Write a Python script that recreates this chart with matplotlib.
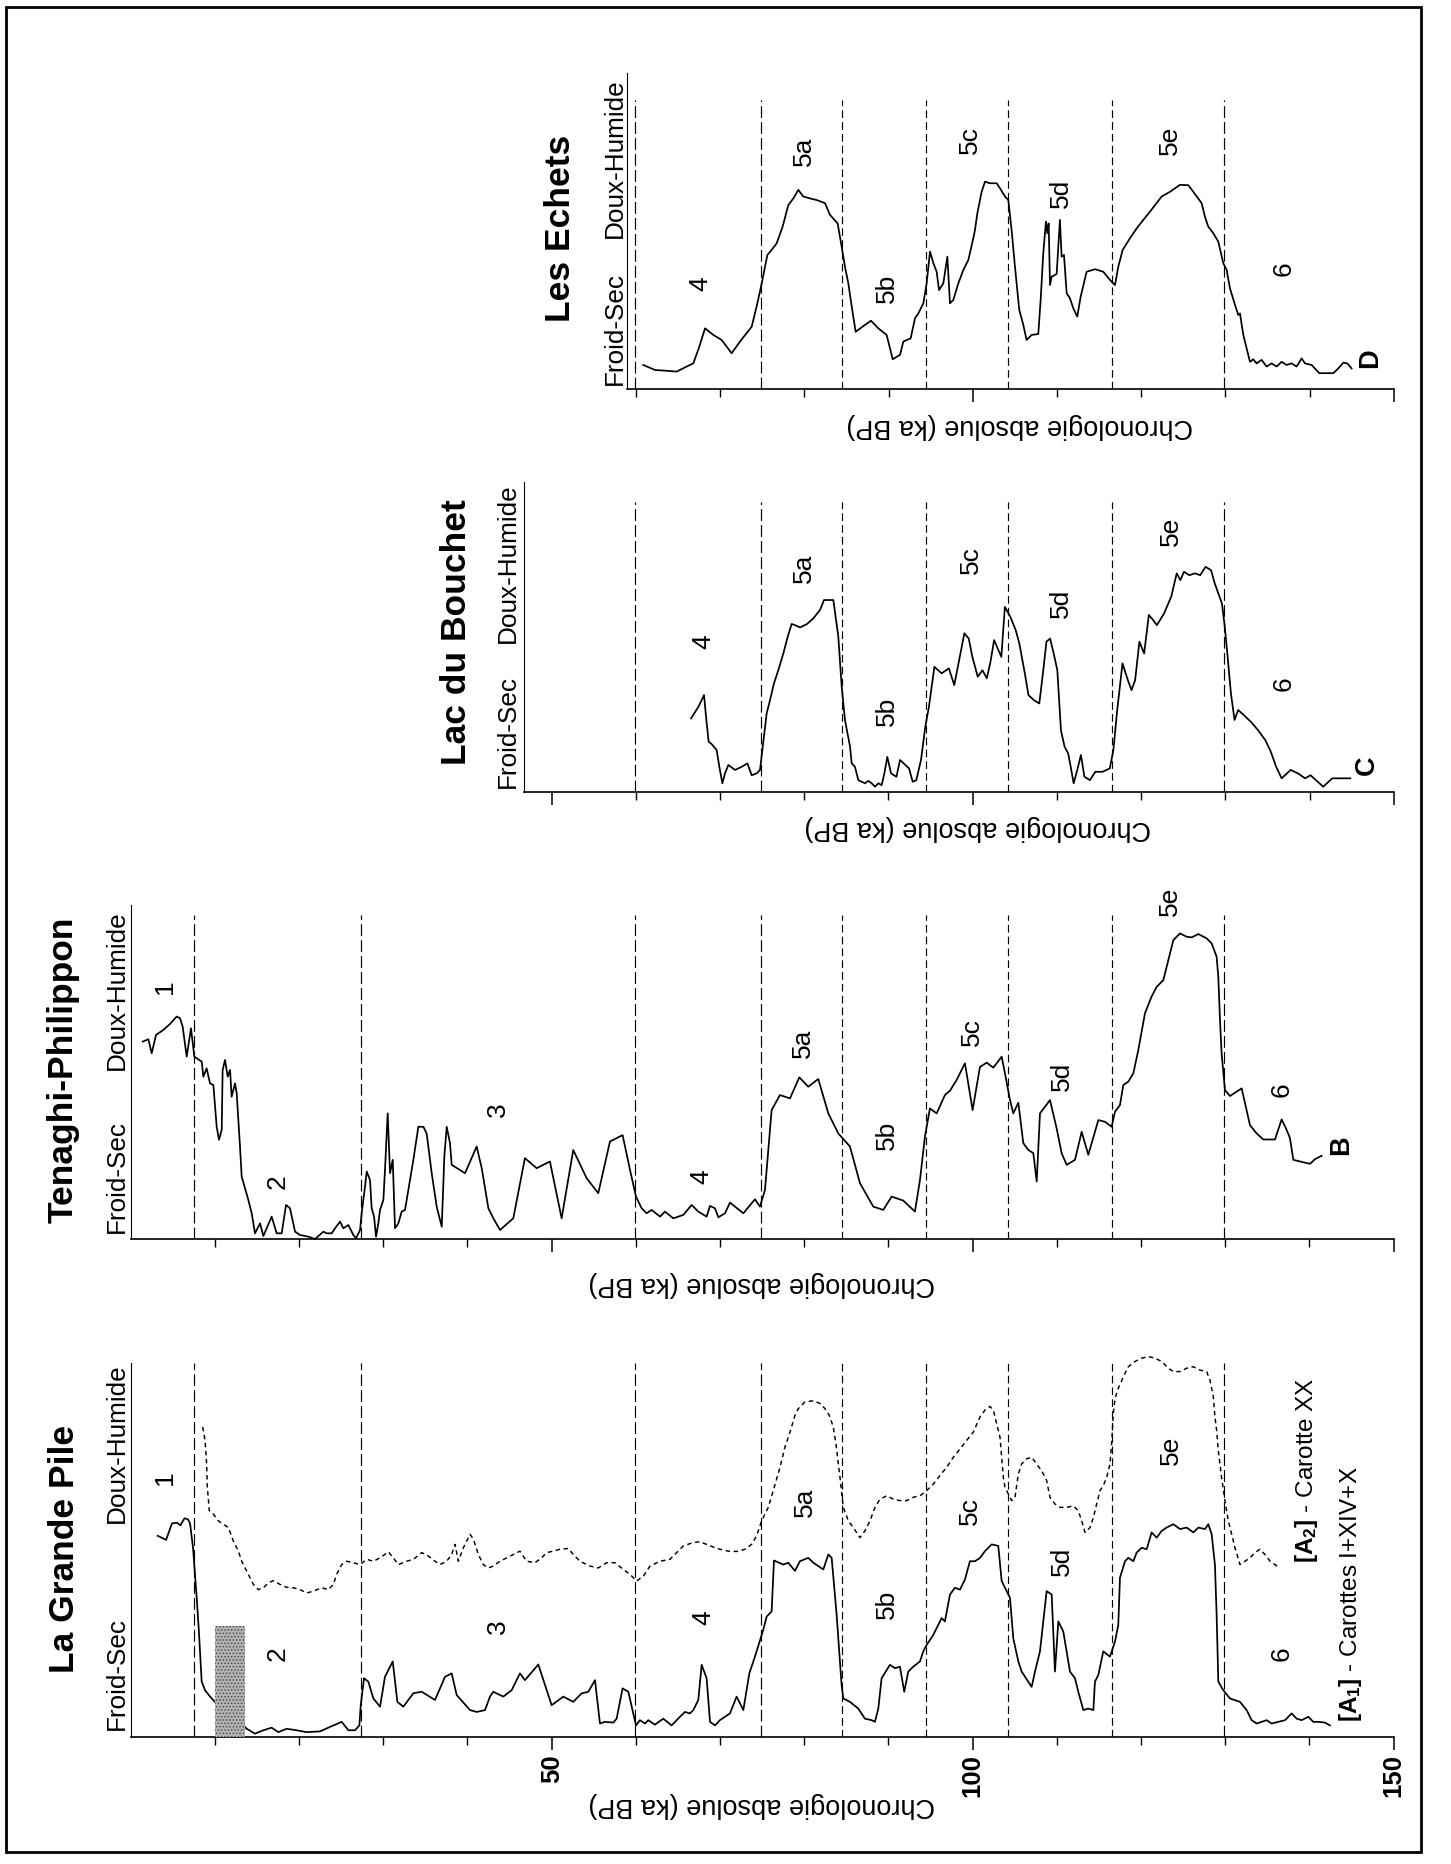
import matplotlib
matplotlib.use('Agg')
import matplotlib.pyplot as plt
from matplotlib.patches import Rectangle
import numpy as np

plt.rcParams['font.family'] = ['Liberation Sans', 'DejaVu Sans']
plt.rcParams['mathtext.fontset'] = 'custom'
plt.rcParams['mathtext.rm'] = 'Liberation Sans'
plt.rcParams['mathtext.bf'] = 'Liberation Sans:bold'
plt.rcParams['lines.scale_dashes'] = False
plt.rcParams['hatch.linewidth'] = 0.7

# ---------------- DATA ----------------
# isotope stage boundaries (ka BP)
stage_bounds = [7.5, 27.3, 59.9, 74.9, 84.5, 94.4, 104.2, 116.5, 129.8]
long_dash_bounds = [7.5, 27.3, 59.9, 74.9, 129.8]

# La Grande Pile A1 (Carottes I+XIV+X), solid
a1_age = [3.2, 4.2, 4.9, 5.5, 5.9, 6.4, 6.8, 7.05, 7.4, 7.84, 8.1, 8.43, 8.83, 9.42, 10.0, 12.2,
          13.78, 14.76, 15.76, 16.74, 17.54, 18.52, 19.71, 20.9, 22.48, 23.67, 25.06, 25.85, 26.64,
          27.16, 27.32, 27.71, 28.22, 28.82, 29.61, 30.2, 31.12, 31.67, 32.38, 33.57, 34.56, 36.14,
          37.33, 38.12, 38.72, 40.3, 41.09, 42.08, 42.67, 43.06, 44.25, 45.24, 46.23, 46.82, 48.41,
          49.99, 51.38, 52.56, 53.55, 54.35, 55.14, 55.73, 56.33, 57.32, 57.71, 58.42, 59.10, 60.01,
          60.48, 61.08, 61.47, 62.26, 63.25, 64.24, 65.23, 65.83, 66.42, 66.82, 67.41, 67.81, 68.40,
          68.80, 69.39, 69.98, 71.17, 71.96, 72.76, 73.47, 74.14, 75.13, 75.53, 76.12, 76.40, 77.50,
          78.10, 78.89, 79.48, 80.47, 81.07, 82.26, 82.85, 83.25, 83.84, 84.43, 84.63, 85.42, 86.41,
          87.20, 88.0, 88.39, 88.79, 89.18, 90.17, 90.77, 91.36, 91.87, 92.35, 92.94, 93.74, 94.13,
          94.53, 95.32, 96.31, 96.70, 97.30, 97.89, 98.49, 99.08, 99.67, 100.27, 100.87, 101.46,
          102.25, 103.04, 103.44, 104.03, 104.43, 104.82, 105.42, 105.81, 107.0, 107.4, 107.99,
          108.78, 109.38, 109.77, 110.17, 110.76, 111.55, 112.15, 112.54, 113.14, 113.73, 114.33,
          114.52, 114.92, 115.51, 116.30, 116.9, 117.29, 117.49, 118.09, 118.48, 119.08, 119.47,
          120.07, 120.66, 121.25, 121.85, 122.44, 123.03, 123.83, 124.62, 125.41, 126.20, 126.80,
          127.59, 127.98, 128.38, 128.77, 128.97, 129.17, 129.76, 130.56, 131.74, 132.53, 133.13,
          133.72, 134.32, 134.91, 135.5, 136.3, 137.09, 137.88, 138.47, 139.07, 139.86, 140.45,
          141.05, 141.84, 142.43]
a1_val = [53.8, 52.7, 57.1, 57.3, 56.6, 58.5, 58.2, 57.1, 50.6, 37.2, 28.2, 14.8, 12.5, 10.8, 9.4, 5.8,
          2.2, 0.9, 1.8, 2.5, 1.3, 2.2, 1.8, 1.3, 1.5, 2.7, 4.05, 1.8, 1.8,
          3.1, 8.5, 15.7, 14.8, 10.3, 8.1, 16.1, 20.2, 9.4, 8.1, 11.7, 12.1, 9.9,
          16.1, 17.0, 11.2, 7.2, 6.7, 7.2, 10.8, 12.1, 10.8, 12.5, 17.0, 15.2, 19.4,
          8.5, 10.8, 9.4, 11.65, 12.1, 15.2, 3.6, 4.05, 3.85, 4.9, 13.0, 12.1, 3.1,
          4.5, 3.6, 4.5, 3.3, 4.9, 3.1, 5.4, 6.7, 6.3, 7.2, 9.9, 19.3, 15.7,
          4.05, 3.1, 4.5, 6.3, 10.8, 7.2, 17.0, 21.5, 28.7, 32.2, 33.6, 47.2, 46.1,
          46.6, 44.4, 47.0, 47.9, 46.6, 44.8, 48.8, 47.9, 32.7, 13.9, 10.3, 9.4, 7.6,
          4.9, 4.5, 4.05, 7.6, 15.7, 19.3, 18.4, 18.8, 12.1, 17.5, 18.8, 20.2, 22.9,
          24.6, 27.3, 31.8, 30.9, 38.1, 39.9, 39.4, 42.1, 47.0, 47.0, 47.9, 49.7,
          51.5, 51.1, 41.7, 39.0, 37.2, 26.4, 20.2, 17.5, 13.4, 17.5, 22.9,
          39.0, 38.1, 17.5, 30.9, 28.2, 17.5, 15.7, 12.1, 7.2, 7.6, 7.2,
          14.8, 16.6, 22.9, 21.5, 25.5, 30.0, 42.6, 47.0, 47.9, 47.0, 49.3,
          50.6, 50.2, 54.7, 53.3, 55.1, 56.0, 56.9, 55.6, 56.0, 54.7, 56.0,
          55.6, 56.9, 54.2, 46.1, 32.7, 14.8, 12.5, 10.3, 9.4, 7.2, 4.5,
          3.6, 4.05, 4.5, 3.6, 4.05, 4.5, 6.3, 4.9, 4.5, 5.4, 4.05,
          4.05, 3.85, 3.1]

# La Grande Pile A2 (Carotte XX), dashed
a2_age = [8.55, 8.83, 9.02, 9.1, 9.34, 9.82, 10.41, 11.0, 11.6, 12.19, 12.79, 13.18, 13.97, 14.57,
          15.16, 15.75, 16.35, 16.94, 17.73, 18.53, 19.32, 20.11, 20.9, 21.69, 22.68, 23.47, 24.07,
          24.46, 25.06, 25.65, 26.44, 27.24, 28.03, 28.82, 29.61, 30.6, 31.19, 31.79, 32.78, 33.57,
          34.56, 35.35, 36.14, 36.74, 37.53, 38.12, 38.52, 38.91, 39.51, 40.3, 40.7, 41.29, 41.88,
          42.48, 43.07, 43.86, 44.65, 45.44, 46.23, 47.02, 48.01, 48.8, 49.4, 50.19, 50.98, 51.97,
          52.56, 53.36, 54.54, 55.53, 56.52, 57.51, 58.5, 59.3, 60.09, 60.88, 61.67, 62.86, 64.05,
          64.84, 65.63, 66.82, 67.61, 68.4, 69.19, 69.98, 70.97, 71.96, 72.95, 73.74, 74.34, 74.93,
          75.72, 76.32, 77.11, 77.7, 78.3, 78.89, 79.29, 80.08, 81.07, 81.86, 82.45, 82.97, 83.44,
          83.76, 84.04, 84.24, 84.63, 85.23, 85.82, 86.61, 87.2, 87.8, 88.39, 88.99, 89.78, 90.57,
          91.36, 92.15, 92.94, 93.74, 94.53, 95.32, 96.11, 96.9, 97.7, 98.49, 99.28, 100.07, 100.87,
          101.46, 102.05, 102.45, 102.84, 103.24, 103.44, 103.64, 103.83, 104.23, 104.63, 105.02,
          105.42, 105.81, 106.41, 107.0, 107.6, 108.19, 108.78, 109.18, 109.77, 110.37, 111.16,
          111.95, 112.54, 112.94, 113.34, 113.93, 114.33, 114.72, 115.12, 115.51, 115.91, 116.3,
          116.5, 116.7, 116.9, 117.29, 117.89, 118.48, 119.27, 120.07, 120.86, 121.65, 122.44,
          123.23, 123.83, 124.62, 125.41, 126.2, 126.99, 127.79, 128.18, 128.58, 128.77, 128.97,
          129.17, 129.56, 129.96, 130.36, 130.75, 131.15, 131.74, 132.34, 132.93, 133.52, 134.12,
          134.71, 135.31, 135.9, 136.49]
a2_val = [82.9, 79.3, 73.0, 66.8, 60.5, 59.6, 57.8, 56.9, 56.0, 52.4, 49.7, 47.0, 43.5, 40.8,
          39.4, 39.9, 41.2, 41.8, 40.8, 40.0, 39.9, 39.4, 38.5, 39.0, 39.9, 39.4, 40.8,
          43.5, 46.1, 47.0, 46.6, 46.1, 47.5, 47.0, 47.9, 49.5, 47.9, 46.1, 47.0, 47.5,
          49.3, 48.4, 47.0, 46.1, 47.0, 48.8, 51.5, 47.0, 50.6, 54.2, 52.9, 48.8, 46.1,
          45.2, 45.7, 47.0, 47.9, 48.8, 49.7, 47.0, 46.6, 47.9, 49.3, 49.7, 50.2, 50.4,
          48.8, 47.0, 45.7, 45.2, 46.6, 46.6, 44.8, 43.5, 41.7, 43.0, 45.7, 47.0, 47.5,
          49.3, 51.1, 52.0, 52.2, 51.5, 50.8, 50.2, 49.7, 49.6, 50.2, 51.5, 53.8, 57.8,
          61.4, 65.9, 72.1, 77.5, 81.5, 86.0, 87.8, 89.6, 89.9, 89.2, 87.8, 86.0, 82.9,
          78.4, 73.0, 69.4, 61.4, 57.8, 56.0, 53.3, 55.1, 57.8, 61.4, 63.6, 64.5, 63.6,
          63.2, 63.2, 64.1, 64.5, 65.9, 67.6, 69.9, 72.1, 74.8, 77.0, 79.3, 81.5, 85.6,
          87.4, 88.4, 87.4, 83.8, 80.2, 74.8, 69.4, 66.8, 65.0, 63.2, 64.1,
          70.3, 73.0, 74.4, 74.8, 73.0, 71.2, 68.6, 64.1, 62.3, 61.4, 61.4,
          61.8, 60.5, 57.8, 54.7, 56.0, 58.7, 62.3, 65.9, 67.2, 69.4, 73.0,
          78.4, 86.5, 90.5, 93.2, 96.3, 99.0, 100.4, 101.3, 101.7, 101.3, 100.4,
          98.6, 97.7, 97.7, 98.6, 99.0, 98.1, 97.7, 95.4, 91.0, 85.6, 82.0,
          76.6, 69.4, 63.2, 57.8, 54.2, 50.6, 46.1, 47.0, 47.9, 49.3, 50.2,
          48.8, 47.0, 46.1, 45.1]

# stippled zone in La Grande Pile (ka range, height)
stipple_age = [10.0, 13.6]
stipple_top = 29.6

# Tenaghi-Philippon (B)
b_age = [1.42, 2.1, 2.49, 3.01, 3.88, 4.67, 5.46, 5.86, 6.17, 6.65, 7.16, 7.56, 8.03, 8.43, 8.63,
         9.02, 9.42, 9.82, 10.21, 10.49, 10.81, 10.92, 11.2, 11.52, 11.8, 11.99, 12.39, 12.59, 12.98,
         13.18, 13.97, 14.37, 14.76, 15.36, 15.75, 16.15, 16.74, 17.34, 17.93, 18.45, 18.92, 19.52,
         20.11, 21.1, 21.89, 22.88, 23.28, 23.87, 24.27, 24.86, 25.26, 25.85, 26.44, 26.76, 27.24,
         27.43, 27.63, 27.83, 28.03, 28.42, 28.62, 28.9, 29.14, 29.41, 29.61, 30.01, 30.2, 30.52,
         30.8, 31.12, 31.39, 31.79, 32.18, 32.58, 32.98, 33.57, 34.16, 34.76, 35.15, 35.75, 36.34,
         36.94, 37.25, 37.53, 37.92, 38.12, 39.71, 41.09, 41.69, 42.48, 43.07, 43.86, 45.44, 46.82,
         48.21, 49.79, 51.18, 52.56, 54.15, 55.53, 56.92, 58.42, 59.3, 60.01, 60.68, 61.27, 61.87,
         62.86, 63.45, 64.44, 65.63, 66.62, 67.41, 68.4, 68.8, 69.39, 69.79, 70.58, 71.17, 72.76,
         74.14, 74.73, 75.33, 76.12, 77.11, 78.3, 79.41, 80.47, 81.66, 82.85, 84.04, 85.42, 86.61,
         88.19, 89.38, 90.37, 91.76, 93.14, 93.74, 94.33, 94.92, 95.72, 96.7, 97.3, 98.09, 99.08,
         99.99, 100.86, 101.66, 102.45, 103.44, 103.83, 104.43, 104.82, 105.42, 106.01, 106.61,
         107.2, 107.6, 107.99, 109.18, 109.97, 110.56, 111.16, 112.15, 112.94, 113.73, 114.92,
         115.71, 116.5, 116.9, 117.49, 117.89, 118.48, 119.08, 119.67, 120.46, 121.25, 121.85,
         122.64, 123.23, 123.83, 124.62, 125.41, 126.0, 126.8, 127.79, 128.38, 128.97, 129.17,
         129.37, 129.56, 129.96, 130.56, 131.35, 131.94, 132.93, 133.72, 134.52, 135.9, 136.69,
         137.21, 137.68, 138.08, 140.06, 140.65, 141.44]
b_val = [59.1, 59.8, 55.6, 61.1, 62.6, 64.4, 66.6, 66.1, 63.6, 54.6, 63.1, 54.6, 53.8, 53.1, 48.6,
         51.1, 46.6, 46.1, 33.6, 29.7, 32.7, 50.6, 53.6, 48.6, 50.6, 42.6, 46.6, 43.6, 27.7,
         18.7, 11.7, 7.7, 1.7, 4.7, 0.9, 3.2, 6.7, 1.7, 1.7, 10.2, 9.2, 2.2,
         1.2, 0.7, 0.0, 2.2, 1.7, 1.7, 3.2, 5.2, 3.2, 4.2, 1.2, 0.2, 2.7,
         7.7, 11.7, 15.7, 20.2, 17.7, 9.2, 6.7, 0.7, 4.7, 8.7, 11.7, 20.7, 37.6,
         19.7, 23.7, 3.2, 4.7, 8.2, 8.7, 14.7, 23.7, 33.6, 33.6, 31.6, 19.7, 9.7,
         3.7, 24.7, 33.6, 28.7, 22.2, 19.7, 27.7, 21.2, 9.2, 6.2, 2.7, 6.2, 24.2,
         21.2, 23.2, 6.2, 26.65, 18.2, 13.7, 29.2, 31.1, 20.7, 12.7, 9.2, 7.7, 8.7,
         6.7, 8.2, 6.2, 7.2, 10.2, 8.2, 6.7, 9.9, 9.2, 6.5, 7.7, 10.9, 7.7,
         11.9, 9.7, 14.7, 38.6, 43.1, 42.1, 48.4, 45.6, 47.9, 37.6, 31.6, 27.7, 16.7,
         9.7, 8.7, 12.7, 11.5, 8.2, 17.7, 30.7, 39.1, 37.6, 43.1, 44.4, 47.6, 52.6,
         38.6, 51.5, 52.8, 51.3, 54.6, 49.6, 41.6, 37.6, 40.8, 28.7, 26.65,
         25.7, 17.2, 37.6, 41.6, 33.1, 25.7, 22.2, 23.7, 32.1, 25.2, 35.6,
         35.1, 33.6, 38.1, 40.1, 46.1, 47.1, 49.6, 56.6, 67.6, 72.6, 75.5,
         77.5, 83.5, 89.5, 91.5, 90.5, 90.3, 91.3, 90.0, 88.5, 84.5, 78.5,
         65.6, 55.6, 44.6, 42.8, 44.1, 45.1, 34.1, 31.6, 29.8, 29.8, 35.8,
         33.1, 30.2, 23.7, 22.5, 23.9, 24.9]

# Lac du Bouchet (C)
c_age = [66.55, 67.42, 68.09, 68.33, 68.64, 69.0, 69.59, 69.91, 70.27, 70.58, 70.98, 71.77, 72.56,
         73.24, 73.75, 74.34, 74.74, 75.02, 75.53, 75.93, 76.40, 76.92, 77.51, 78.03, 78.50, 78.9,
         79.49, 80.28, 81.07, 81.87, 82.34, 83.45, 84.04, 84.44, 84.83, 85.43, 85.63, 86.02, 86.42,
         86.81, 87.21, 87.61, 88.0, 88.4, 88.79, 89.19, 89.51, 89.86, 90.3, 90.94, 91.37, 92.01,
         92.44, 92.87, 93.3, 93.86, 94.37, 94.8, 95.45, 96.31, 97.17, 97.81, 98.46, 99.01, 99.53,
         99.96, 100.6, 101.16, 101.68, 102.11, 102.54, 102.97, 103.4, 103.82, 104.47, 105.11,
         105.54, 106.19, 106.62, 107.26, 107.91, 108.34, 108.76, 109.19, 109.62, 110.05, 110.48,
         110.91, 111.34, 111.64, 111.99, 112.42, 112.85, 113.27, 113.92, 114.56, 115.42, 116.28,
         116.71, 117.14, 117.79, 118.43, 118.86, 119.29, 119.8, 120.36, 120.92, 121.44, 121.87,
         122.73, 123.58, 124.23, 124.66, 125.09, 125.73, 126.38, 127.02, 127.66, 128.31, 128.74,
         129.6, 129.94, 130.24, 130.67, 131.1, 131.53, 132.18, 133.04, 133.89, 134.75, 135.4,
         136.04, 136.69, 137.76, 138.62, 139.48, 140.12, 140.77, 141.63, 142.7, 143.56, 144.85]
c_val = [23.8, 27.5, 31.3, 24.3, 16.3, 15.5, 13.6, 8.2, 2.9, 6.1, 8.8, 7.2, 8.2,
         9.3, 5.5, 6.1, 7.2, 13.6, 25.4, 29.7, 35.1, 39.4, 44.7, 50.1, 54.2, 53.8,
         53.1, 54.1, 56.0, 58.7, 61.9, 61.9, 50.1, 34.0, 23.3, 14.7, 9.3, 8.2, 3.9,
         3.4, 2.9, 3.7, 2.9, 1.8, 2.9, 2.3, 6.1, 11.4, 6.1, 5.0, 10.4, 8.8,
         7.7, 3.4, 3.9, 10.4, 21.1, 27.5, 40.4, 38.3, 39.9, 34.5, 43.6, 51.2, 49.5,
         43.6, 37.2, 39.3, 36.7, 42.0, 49.0, 46.3, 43.6, 59.7, 56.5, 52.2,
         47.9, 38.3, 31.3, 29.7, 28.6, 38.3, 48.5, 49.5, 44.7, 39.3, 20.0,
         14.7, 12.5, 8.2, 2.9, 7.2, 12.0, 5.0, 3.9, 6.6, 6.6, 7.7,
         13.6, 25.9, 41.5, 36.1, 32.9, 36.1, 48.5, 44.7, 57.1, 55.4, 53.8,
         57.6, 63.0, 70.5, 68.3, 71.0, 69.9, 70.5, 69.9, 72.6, 71.5, 67.3,
         60.8, 53.3, 44.7, 31.8, 23.3, 26.5, 24.9, 22.7, 20.0, 16.8, 13.1,
         8.2, 4.5, 7.2, 6.1, 4.5, 5.5, 3.9, 1.8, 4.5, 4.5, 4.5]

# Les Echets (D)
d_age = [60.88, 62.27, 63.46, 64.84, 66.03, 66.82, 67.53, 68.21, 69.2, 70.19, 71.37, 72.36, 73.75,
         74.34, 74.94, 75.61, 76.12, 76.72, 77.43, 78.1, 78.7, 79.29, 79.88, 80.68, 81.47, 82.46,
         83.05, 83.96, 84.44, 84.83, 85.23, 85.63, 86.1, 87.01, 87.92, 88.79, 89.78, 90.5, 90.97,
         91.37, 91.76, 92.16, 92.63, 93.15, 93.54, 94.14, 94.53, 94.93, 95.33, 95.72, 96.0, 96.51,
         96.99, 97.3, 97.7, 98.29, 98.89, 99.48, 100.07, 100.27, 100.55, 101.06, 101.46, 102.05,
         102.85, 103.24, 103.84, 104.23, 104.62, 105.02, 105.53, 106.01, 106.4, 107.0, 107.79,
         108.07, 108.38, 108.7, 108.86, 109.02, 109.18, 109.37, 109.97, 110.36, 110.56, 110.84,
         111.16, 111.55, 111.95, 112.42, 112.82, 113.53, 114.52, 115.51, 116.3, 116.9, 117.29,
         117.81, 118.68, 119.47, 120.26, 121.05, 121.84, 122.44, 123.43, 124.02, 124.62, 125.6,
         126.2, 127.19, 127.58, 127.98, 128.57, 129.17, 129.76, 130.16, 130.55, 131.15, 131.54,
         131.74, 132.14, 132.93, 133.32, 133.72, 134.31, 134.91, 135.5, 136.1, 136.69, 137.28,
         137.88, 138.47, 139.07, 139.46, 140.25, 141.16, 142.83, 143.42, 144.01, 144.49, 145.0]
d_val = [7.7, 6.1, 5.9, 5.6, 7.2, 8.2, 13.5, 19.3, 17.2, 15.6, 11.4, 15.1, 19.8,
         26.2, 33.5, 42.5, 44.1, 46.2, 51.5, 58.3, 60.4, 63.1, 61.0, 60.4, 59.9, 58.9,
         55.2, 52.5, 45.1, 38.8, 33.5, 26.2, 18.2, 20.0, 21.7, 19.3, 17.2, 9.5, 10.3,
         10.9, 15.1, 15.6, 16.1, 22.5, 24.0, 27.2, 33.5, 43.6, 39.9, 37.2, 31.4, 33.5,
         42.0, 27.2, 28.3, 33.5, 37.8, 40.9, 47.8, 50.4, 55.7, 62.5, 65.7, 65.2,
         65.2, 63.6, 61.0, 59.9, 50.4, 38.8, 25.1, 20.4, 15.6, 17.2, 17.5,
         28.3, 43.0, 53.1, 49.4, 52.5, 33.0, 35.6, 36.5, 53.6, 42.0, 42.5,
         30.4, 28.8, 25.6, 23.0, 29.3, 37.2, 38.0, 37.2, 34.6, 33.0, 38.8,
         44.1, 47.8, 50.9, 53.6, 56.2, 58.9, 61.0, 62.5, 63.6, 64.7, 64.6,
         62.5, 58.9, 54.6, 51.5, 49.4, 46.7, 39.9, 37.8, 32.0, 26.7, 23.5,
         24.0, 17.2, 8.7, 9.5, 8.2, 9.3, 7.2, 8.2, 7.2, 8.7, 7.7,
         8.2, 7.2, 9.8, 8.2, 7.7, 5.1, 5.1, 6.6, 8.4, 8.2, 6.6]

# stage labels per panel
a_stage_names = ['1', '2', '3', '4', '5a', '5b', '5c', '5d', '5e', '6']
a_stage_age = [4.1, 17.5, 43.66, 68.0, 80.08, 89.8, 99.7, 110.6, 123.6, 136.7]
a_stage_val = [69.4, 22.4, 29.6, 31.8, 62.7, 35.4, 60.5, 47.0, 76.6, 22.4]
b_stage_names = ['1', '2', '3', '4', '5a', '5b', '5c', '5d', '5e', '6']
b_stage_age = [4.08, 17.5, 43.66, 67.8, 79.88, 89.78, 99.87, 110.56, 123.43, 136.69]
b_stage_val = [75.6, 17.2, 38.6, 18.7, 58.6, 31.1, 62.1, 48.6, 101.0, 44.6]
c_stage_names = ['4', '5a', '5b', '5c', '5d', '5e', '6']
c_stage_age = [68.0, 79.9, 89.8, 99.74, 110.48, 123.58, 136.9]
c_stage_val = [48.5, 72.1, 26.0, 74.8, 60.8, 83.9, 35.1]
d_stage_names = ['4', '5a', '5b', '5c', '5d', '5e', '6']
d_stage_age = [67.6, 79.9, 89.8, 99.7, 110.5, 123.4, 136.9]
d_stage_val = [33.5, 75.2, 32.0, 78.9, 62.0, 78.9, 38.3]

site_titles = ['La Grande Pile', 'Tenaghi-Philippon', 'Lac du Bouchet', 'Les Echets']
panel_letters = ['B', 'C', 'D']
tick_labels = ['50', '100', '150']

# ---------------- FIGURE ----------------
W, H = 1451, 1864
DPI = 100
fig = plt.figure(figsize=(W / DPI, H / DPI), dpi=DPI)
fig.patch.set_facecolor('white')

def fx(px):
    return px / W

def fy(py):
    return 1 - py / H

X0 = 130.7       # pixel of 0 ka
PXKA = 8.42      # pixels per ka
XR = X0 + 150 * PXKA

def add_panel(xmin, top_px, bottom_px, labels=False):
    left = X0 + xmin * PXKA
    ax = fig.add_axes([fx(left), fy(bottom_px), (XR - left) / W, (bottom_px - top_px) / H])
    ax.set_xlim(xmin, 150)
    ax.set_ylim(0, 100)
    ax.patch.set_alpha(0)
    for s in ['top', 'right']:
        ax.spines[s].set_visible(False)
    ax.spines['bottom'].set_linewidth(1.2)
    ax.spines['left'].set_linewidth(0.8)
    ax.set_yticks([])
    start = int(np.ceil(xmin / 10.0) * 10)
    allt = np.arange(max(start, 10), 151, 10)
    major = [t for t in allt if t % 50 == 0]
    minor = [t for t in allt if t % 50 != 0]
    ax.set_xticks(major)
    ax.set_xticks(minor, minor=True)
    if labels:
        ax.set_xticklabels(tick_labels[-len(major):], rotation=90, fontweight='bold', fontsize=18.5)
    else:
        ax.set_xticklabels([])
    ax.tick_params(axis='x', which='major', direction='out', length=9.5, width=1.1, pad=3)
    ax.tick_params(axis='x', which='minor', direction='out', length=5.5, width=1.0)
    return ax

def draw_bounds(ax, xmin, top):
    for b in stage_bounds:
        if b < xmin:
            continue
        if b in long_dash_bounds:
            ls = (0, (8.5, 3.0))
        else:
            ls = (0, (5.5, 3.0))
        ax.plot([b, b], [0, top], color='black', lw=0.85, linestyle=ls, zorder=1)

def draw_stages(ax, names, ages, vals):
    for n, a, v in zip(names, ages, vals):
        ax.text(a, v, n, rotation=90, ha='center', va='center', fontsize=19, clip_on=False)

# Panel A
axA = add_panel(0, 1363, 1737, labels=True)
draw_bounds(axA, 0, 100)
axA.plot(a1_age, a1_val, color='black', lw=1.25, clip_on=False, zorder=3)
axA.plot(a2_age, a2_val, color='black', lw=1.05, linestyle=(0, (3.2, 2.6)), clip_on=False, zorder=3)
axA.fill_between(stipple_age, 0, stipple_top, facecolor='#b4b4b4', edgecolor='#4a4a4a',
                 hatch='.....', linewidth=0, zorder=4)
draw_stages(axA, a_stage_names, a_stage_age, a_stage_val)

# Panel B
axB = add_panel(0, 905, 1239)
draw_bounds(axB, 0, 97)
axB.plot(b_age, b_val, color='black', lw=1.25, clip_on=False, zorder=3)
draw_stages(axB, b_stage_names, b_stage_age, b_stage_val)
axB.text(143.8, 28.2, panel_letters[0], rotation=90, ha='center', va='center',
         fontsize=19.5, fontweight='bold')

# Panel C
axC = add_panel(46.7, 481.7, 792.3)
draw_bounds(axC, 46.7, 93.6)
axC.plot(c_age, c_val, color='black', lw=1.25, clip_on=False, zorder=3)
draw_stages(axC, c_stage_names, c_stage_age, c_stage_val)
axC.text(146.8, 8.8, panel_letters[1], rotation=90, ha='center', va='center',
         fontsize=19.5, fontweight='bold')

# Panel D
axD = add_panel(59.0, 73.3, 389.3)
draw_bounds(axD, 59.0, 91.5)
axD.plot(d_age, d_val, color='black', lw=1.25, clip_on=False, zorder=3)
draw_stages(axD, d_stage_names, d_stage_age, d_stage_val)
axD.text(147.2, 9.8, panel_letters[2], rotation=90, ha='center', va='center',
         fontsize=19.5, fontweight='bold')

# Titles
title_pos = [(65, 1673), (63, 1223), (456.7, 765), (560, 322)]
for t, (px, py) in zip(site_titles, title_pos):
    fig.text(fx(px), fy(py), t, rotation=90, ha='center', va='bottom',
             fontsize=25.5, fontweight='bold')

# Froid-Sec / Doux-Humide
fs_pos = [(116.7, 1730), (116.7, 1233), (508.3, 788), (615, 385)]
dh_pos = [(116.7, 1523), (116.7, 1070), (508.3, 643), (615, 238)]
for (px, py) in fs_pos:
    fig.text(fx(px), fy(py), 'Froid-Sec', rotation=90, ha='center', va='bottom', fontsize=18.8)
for (px, py) in dh_pos:
    fig.text(fx(px), fy(py), 'Doux-Humide', rotation=90, ha='center', va='bottom', fontsize=18.8)

# axis labels (upside-down)
xl_pos = [(761.7, 1805), (761.7, 1284), (978, 828), (1020, 426)]
for (px, py) in xl_pos:
    fig.text(fx(px), fy(py), 'Chronologie absolue (ka BP)', rotation=180,
             ha='center', va='center', fontsize=19.5)

# core labels for La Grande Pile
fig.text(fx(1306.7), fy(1563), r'$\mathbf{[A_2]}$ - Carotte XX', rotation=90,
         ha='center', va='bottom', fontsize=17.5)
fig.text(fx(1350), fy(1722), r'$\mathbf{[A_1]}$ - Carottes I+XIV+X', rotation=90,
         ha='center', va='bottom', fontsize=17.5)

# outer frame
fig.add_artist(Rectangle((fx(6), fy(1852)), fx(1421) - fx(6), fy(7) - fy(1852),
                         transform=fig.transFigure, fill=False, edgecolor='black', lw=2.0))

fig.savefig('out.png', dpi=DPI)
